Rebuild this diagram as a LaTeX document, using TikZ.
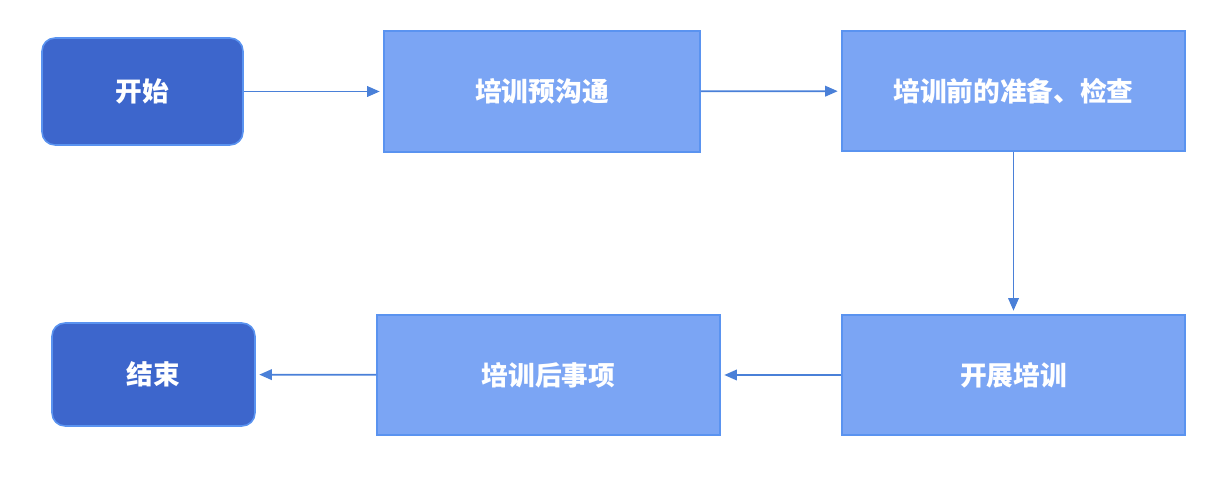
\documentclass[tikz,border=0pt]{standalone}
\usepackage{fontspec}
\setmainfont{Noto Sans CJK SC}
\usetikzlibrary{arrows.meta}
\definecolor{darkblue}{HTML}{3D66CC}
\definecolor{lightblue}{HTML}{7BA5F4}
\definecolor{edgeblue}{HTML}{5A93F0}
\definecolor{linkblue}{HTML}{4A80D8}
\tikzset{
    stepbox/.style={draw=edgeblue,fill=lightblue,line width=0.9pt,text=white,
        font=\bfseries\fontsize{15.2}{17}\selectfont},
    endbox/.style={stepbox,fill=darkblue,rounded corners=0.26cm},
    link/.style={draw=linkblue,line width=1pt,shorten >=2pt,
        -{Triangle[length=0.25cm,width=0.21cm]}},
}
\begin{document}
\begin{tikzpicture}[x=0.02cm,y=-0.02cm]
    \useasboundingbox (0,0) rectangle (1221,482);
    \node[endbox,minimum width=4.02cm,minimum height=2.14cm] (Start) at (142.5,91.5) {开始};
    \node[stepbox,minimum width=6.32cm,minimum height=2.42cm] (PreTalk) at (542,91.5) {培训预沟通};
    \node[stepbox,minimum width=6.86cm,minimum height=2.4cm] (Prepare) at (1013.5,91) {培训前的准备、检查};
    \node[stepbox,minimum width=6.86cm,minimum height=2.4cm] (Train) at (1013.5,375) {开展培训};
    \node[stepbox,minimum width=6.86cm,minimum height=2.4cm] (After) at (548.5,375) {培训后事项};
    \node[endbox,minimum width=4.06cm,minimum height=2.06cm] (End) at (153.5,374.5) {结束};
    \draw[link] (Start) -- (PreTalk);
    \draw[link] (PreTalk) -- (Prepare);
    \draw[link] (Prepare) -- (Train);
    \draw[link] (Train) -- (After);
    \draw[link] (After) -- (End);
\end{tikzpicture}
\end{document}
